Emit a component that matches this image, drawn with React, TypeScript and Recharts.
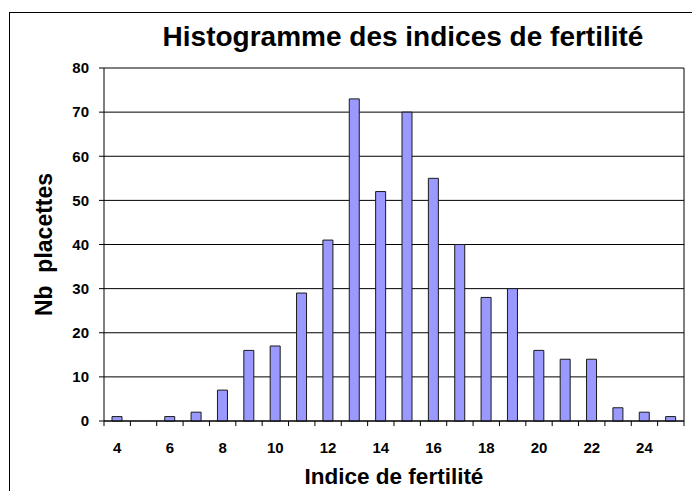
import React from 'react';
import { ComposedChart, Bar, XAxis, YAxis, CartesianGrid, ReferenceLine } from 'recharts';

const categories = [4, 5, 6, 7, 8, 9, 10, 11, 12, 13, 14, 15, 16, 17, 18, 19, 20, 21, 22, 23, 24, 25];
const counts = [1, 0, 1, 2, 7, 16, 17, 29, 41, 73, 52, 70, 55, 40, 28, 30, 16, 14, 14, 3, 2, 1];
const xTickLabels = [4, 6, 8, 10, 12, 14, 16, 18, 20, 22, 24];
const yTicks = [0, 10, 20, 30, 40, 50, 60, 70, 80];

const title = 'Histogramme des indices de fertilité';
const xTitle = 'Indice de fertilité';
const yTitle = 'Nb  placettes';

const data = categories.map((c, i) => ({ x: c, n: counts[i] }));
const boundaries = [...categories.map((c) => c - 0.5), categories[categories.length - 1] + 0.5];
const xDomain: [number, number] = [boundaries[0], boundaries[boundaries.length - 1]];

const FONT = '"Liberation Sans", Arial, sans-serif';
const tickStyle = { fill: '#000', fontSize: 15, fontWeight: 700, fontFamily: FONT };
const blackLine = { stroke: '#000' };
// length of the category tick marks below the axis, in value units (~5px)
const X_TICK_DEPTH = 1.15;

const XTitle = (props: any) => {
  const vb = props.viewBox || {};
  return (
    <text
      x={vb.x + vb.width / 2}
      y={vb.y + 63}
      textAnchor="middle"
      style={{ fontFamily: FONT, fontSize: 22.5, fontWeight: 700, fill: '#000' }}
    >
      {xTitle}
    </text>
  );
};

const YTitle = (props: any) => {
  const vb = props.viewBox || {};
  const cx = vb.x + 44;
  const cy = vb.y + vb.height / 2;
  return (
    <text
      x={cx}
      y={cy}
      textAnchor="middle"
      dominantBaseline="central"
      transform={`rotate(-90, ${cx}, ${cy})`}
      style={{ fontFamily: FONT, fontSize: 23, fontWeight: 700, fill: '#000', whiteSpace: 'pre' }}
    >
      {yTitle}
    </text>
  );
};

const xLabel = { content: XTitle };
const yLabel = { content: YTitle };

export default function App() {
  return (
    <div style={{ position: 'absolute', left: 0, top: 0, width: 692, height: 491, overflow: 'hidden', background: '#fff' }}>
      <div
        style={{
          position: 'absolute',
          left: 9,
          top: 12,
          width: 700,
          height: 500,
          borderTop: '1px solid #000',
          borderLeft: '1px solid #000',
        }}
      />
      <svg width={692} height={491} style={{ position: 'absolute', left: 0, top: 0 }}>
        <text
          x={403}
          y={46}
          textAnchor="middle"
          style={{ fontFamily: FONT, fontSize: 28, fontWeight: 700, fill: '#000' }}
        >
          {title}
        </text>
      </svg>
      <div style={{ position: 'absolute', left: 0, top: 0 }}>
        <ComposedChart width={692} height={491} data={data} margin={{ top: 68, right: 0, bottom: 0, left: 0 }}>
          <CartesianGrid xAxisId="b" yAxisId="l" horizontal vertical={false} stroke="#000" strokeWidth={1} />
          <XAxis
            xAxisId="b"
            dataKey="x"
            type="number"
            domain={xDomain}
            ticks={xTickLabels}
            interval={0}
            tickLine={false}
            tickSize={5}
            tickMargin={16}
            tick={tickStyle}
            axisLine={blackLine}
            height={70}
            allowDataOverflow
            label={xLabel}
          />
          <YAxis
            yAxisId="l"
            domain={[0, 80]}
            ticks={yTicks}
            interval={0}
            width={104}
            tickSize={5}
            tickMargin={10}
            tick={tickStyle}
            tickLine={blackLine}
            axisLine={blackLine}
            label={yLabel}
          />
          <YAxis
            yAxisId="r"
            orientation="right"
            domain={[0, 80]}
            width={8}
            tick={false}
            tickLine={false}
            axisLine={blackLine}
          />
          <Bar
            dataKey="n"
            xAxisId="b"
            yAxisId="l"
            barSize={10}
            fill="#9999FF"
            stroke="#1a1a1a"
            strokeWidth={1}
            isAnimationActive={false}
          />
          {boundaries.map((b) => (
            <ReferenceLine
              key={`tk-${b}`}
              xAxisId="b"
              yAxisId="l"
              segment={[
                { x: b, y: 0 },
                { x: b, y: -X_TICK_DEPTH },
              ]}
              ifOverflow="visible"
              stroke="#000"
              strokeWidth={1}
            />
          ))}
        </ComposedChart>
      </div>
    </div>
  );
}
